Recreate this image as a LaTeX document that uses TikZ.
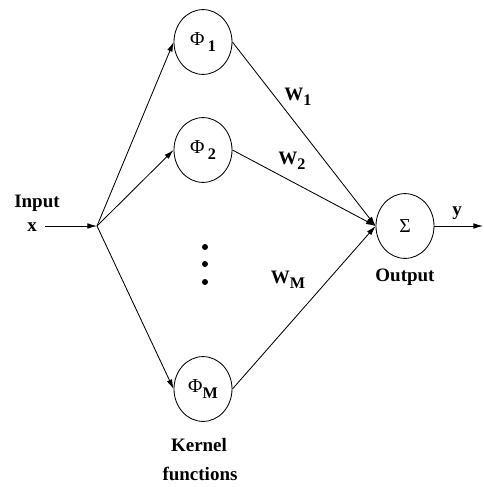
\documentclass[tikz,border=0pt]{standalone}
\usepackage{fontspec}
\setmainfont{Liberation Serif}
\usetikzlibrary{arrows.meta,positioning,shapes.geometric}
\newcommand{\lowidx}[1]{\raisebox{-0.6ex}{\fontsize{11.5}{13}\selectfont\bfseries #1}}

\begin{document}
\begin{tikzpicture}[x=0.025cm, y=-0.025cm,
  every node/.style={font=\fontsize{13.5}{16}\selectfont\bfseries},
  unit/.style={draw, ellipse, line width=0.6pt, minimum width=1.45cm, minimum height=1.62cm, inner sep=0pt, font=\fontsize{14}{16}\selectfont},
  arrow/.style={-{Latex[length=2.4mm, width=1.4mm]}, line width=0.6pt}
]
\useasboundingbox (0,0) rectangle (483,487);

% kernel units and the summing unit
\node[unit] (phi1) at (203,42) {Φ\,\lowidx{1}};
\node[unit] (phi2) at (203,150) {Φ\,\lowidx{2}};
\node[unit] (phim) at (203,389) {Φ\lowidx{M}};
\node[unit] (sum) at (405,226) {Σ};

\foreach \y in {247,264,282} {
  \fill (205,\y) circle (3);
}

% input side
\node (inlabel) at (37,203) {Input};
\node (xin) at (32,227) {x};
\coordinate (xstart) at (45,226);
\coordinate (split) at (97,226);
\draw[arrow] (xstart) -- (split);
\draw[arrow] (split) -- (phi1.west);
\draw[arrow] (split) -- (phi2.west);
\draw[arrow] (split) -- (phim.west);

% weighted links to the output
\draw[arrow] (phi1.east) -- (sum.west);
\draw[arrow] (phi2.east) -- (sum.west);
\draw[arrow] (phim.east) -- (sum.west);
\node (w1) at (298,97) {W\lowidx{1}};
\node (w2) at (292,161) {W\lowidx{2}};
\node (wm) at (288,280) {W\lowidx{M}};

\coordinate (yend) at (483,226);
\draw[arrow] (sum.east) -- (yend);
\node (yout) at (457,213) {y};
\node (outlabel) at (405,277) {Output};

\node (kern) at (199,445) {Kernel};
\node (func) at (200,474) {functions};
\end{tikzpicture}
\end{document}
